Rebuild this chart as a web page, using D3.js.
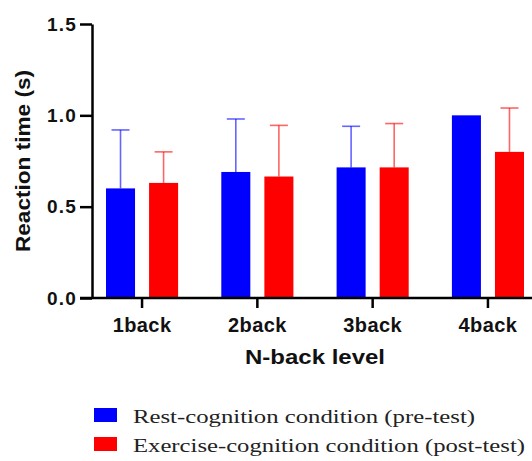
<!DOCTYPE html>
<html>
<head>
<meta charset="utf-8">
<script src="https://cdn.jsdelivr.net/npm/d3@7"></script>
<style>
  body { margin: 0; background: #fff; }
  svg { display: block; }
</style>
</head>
<body>
<svg id="chart" width="532" height="461"></svg>
<script>
// data
var levels = ["1back", "2back", "3back", "4back"];
var conditions = ["rest", "exercise"];
var restMean = [0.60, 0.69, 0.715, 1.00];
var restErr = [0.32, 0.29, 0.225, 0];
var exerciseMean = [0.63, 0.665, 0.715, 0.80];
var exerciseErr = [0.17, 0.28, 0.24, 0.24];
var yTicks = [0.0, 0.5, 1.0, 1.5];
var legendLabels = ["Rest-cognition condition (pre-test)", "Exercise-cognition condition (post-test)"];
var colors = {rest: "#0000ff", exercise: "#ff0000"};

var svg = d3.select("#chart");
var sans = "'Liberation Sans', Arial, sans-serif";

var y = d3.scaleLinear().domain([0, 1.5]).range([298, 24]);
var x = d3.scaleBand().domain(levels).range([84.4, 545.6]).padding(0);
var xs = d3.scaleBand().domain(conditions)
    .range([21.6, x.bandwidth() - 21.6])
    .paddingInner(0.326).paddingOuter(0);

var data = [];
levels.forEach(function(lv, i) {
    data.push({level: lv, cond: "rest", mean: restMean[i], err: restErr[i]});
    data.push({level: lv, cond: "exercise", mean: exerciseMean[i], err: exerciseErr[i]});
});

// error bars (drawn first so the bar covers the lower part)
var eb = svg.append("g");
data.filter(function(d) { return d.err > 0; }).forEach(function(d) {
    var cx = x(d.level) + xs(d.cond) + xs.bandwidth() / 2;
    eb.append("line")
        .attr("x1", cx).attr("x2", cx)
        .attr("y1", y(d.mean)).attr("y2", y(d.mean + d.err))
        .attr("stroke", colors[d.cond]).attr("stroke-width", 1.6).attr("opacity", 0.6);
    eb.append("line")
        .attr("x1", cx - 9).attr("x2", cx + 9)
        .attr("y1", y(d.mean + d.err)).attr("y2", y(d.mean + d.err))
        .attr("stroke", colors[d.cond]).attr("stroke-width", 1.6).attr("opacity", 0.6);
});

svg.append("g").selectAll("rect")
    .data(data)
    .enter()
    .append("rect")
    .attr("x", function(d) { return x(d.level) + xs(d.cond); })
    .attr("y", function(d) { return y(d.mean); })
    .attr("width", xs.bandwidth())
    .attr("height", function(d) { return y(0) - y(d.mean); })
    .attr("fill", function(d) { return colors[d.cond]; });

// y axis
var yAxis = svg.append("g")
    .attr("transform", "translate(92,0)")
    .call(d3.axisLeft(y).tickValues(yTicks).tickFormat(d3.format(".1f")).tickSize(12).tickSizeOuter(0).tickPadding(3));
yAxis.select(".domain").attr("stroke", "#000").attr("stroke-width", 2.5);
yAxis.selectAll(".tick line").attr("stroke", "#000").attr("stroke-width", 2.5);
yAxis.selectAll(".tick text")
    .style("font-family", sans).style("font-weight", "bold")
    .style("font-size", "19px").style("letter-spacing", "1.2px").attr("fill", "#111");

// x axis
var xAxis = svg.append("g")
    .attr("transform", "translate(0,298)")
    .call(d3.axisBottom(x).tickSize(10).tickSizeOuter(0).tickPadding(10));
xAxis.select(".domain").remove();
xAxis.append("line")
    .attr("x1", 80).attr("x2", 532).attr("y1", 0).attr("y2", 0)
    .attr("stroke", "#000").attr("stroke-width", 2.5);
xAxis.selectAll(".tick line").attr("stroke", "#000").attr("stroke-width", 2.5);
xAxis.selectAll(".tick text")
    .style("font-family", sans).style("font-weight", "bold")
    .style("font-size", "20px").style("letter-spacing", "0.4px").attr("fill", "#111");

// axis titles
svg.append("text")
    .attr("x", 315).attr("y", 364)
    .attr("text-anchor", "middle")
    .attr("textLength", 140).attr("lengthAdjust", "spacingAndGlyphs")
    .style("font-family", sans).style("font-weight", "bold").style("font-size", "20px")
    .attr("fill", "#111")
    .text("N-back level");

svg.append("text")
    .attr("transform", "translate(30,161) rotate(-90)")
    .attr("text-anchor", "middle")
    .attr("textLength", 182).attr("lengthAdjust", "spacingAndGlyphs")
    .style("font-family", sans).style("font-weight", "bold").style("font-size", "20px")
    .attr("fill", "#111")
    .text("Reaction time (s)");

// legend
var legend = svg.append("g");
conditions.forEach(function(c, i) {
    legend.append("rect")
        .attr("x", 94).attr("y", 408 + i * 29)
        .attr("width", 23).attr("height", 14)
        .attr("fill", colors[c]);
    legend.append("text")
        .attr("x", 133).attr("y", 423 + i * 29)
        .attr("textLength", i === 0 ? 342 : 392).attr("lengthAdjust", "spacingAndGlyphs")
        .style("font-family", "'Liberation Serif', 'Times New Roman', serif")
        .style("font-size", "18px")
        .attr("fill", "#222")
        .text(legendLabels[i]);
});
</script>
</body>
</html>
